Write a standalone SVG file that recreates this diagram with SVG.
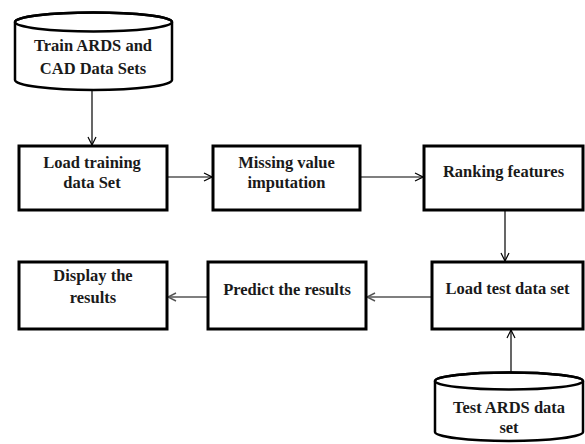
<svg xmlns="http://www.w3.org/2000/svg" width="585" height="444" viewBox="0 0 585 444">
<style>
.box{fill:#fff;stroke:#000;stroke-width:3}
.cyl{fill:#fff;stroke:#000;stroke-width:2.5}
.t{font-family:"Liberation Serif","Times New Roman",serif;font-weight:bold;font-size:16.5px;fill:#1a1a1a;text-anchor:middle}
.c{stroke:#000;stroke-width:1.2;fill:none}
.g{stroke:#555;stroke-width:1.6;fill:none}
</style>
<defs>
<marker id="a" viewBox="0 0 10 10" refX="9" refY="5" markerWidth="10" markerHeight="10" markerUnits="userSpaceOnUse" orient="auto">
<path d="M1,1 L9,5 L1,9" fill="none" stroke="#000" stroke-width="1.2"/>
</marker>
<marker id="ag" viewBox="0 0 10 10" refX="9" refY="5" markerWidth="10" markerHeight="10" markerUnits="userSpaceOnUse" orient="auto">
<path d="M1,1 L9,5 L1,9" fill="none" stroke="#555" stroke-width="1.4"/>
</marker>
</defs>
<rect width="585" height="444" fill="#fff"/>
<g id="connectors">
<line class="c" x1="92" y1="90" x2="92" y2="145" marker-end="url(#a)"/>
<line class="c" x1="167" y1="177" x2="212" y2="177" marker-end="url(#a)"/>
<line class="c" x1="360" y1="177" x2="423" y2="177" marker-end="url(#a)"/>
<line class="c" x1="505" y1="210" x2="505" y2="261" marker-end="url(#a)"/>
<line class="g" x1="432" y1="297" x2="367" y2="297" marker-end="url(#ag)"/>
<line class="g" x1="208" y1="297" x2="168" y2="297" marker-end="url(#ag)"/>
<line class="c" x1="511" y1="373" x2="511" y2="330" marker-end="url(#a)"/>
</g>
<g id="train">
<path class="cyl" d="M15,22 L15,80 A78.5,10 0 0 0 172,80 L172,22 A78.5,9.5 0 0 0 15,22 Z"/>
<ellipse cx="93.5" cy="22" rx="78.5" ry="9.5" fill="none" stroke="#000" stroke-width="2.5"/>
<text class="t" x="93" y="51">Train ARDS and</text>
<text class="t" x="93" y="74">CAD Data Sets</text>
</g>
<g id="load-training">
<rect class="box" x="19" y="146" width="148" height="64"/>
<text class="t" x="92" y="168">Load training</text>
<text class="t" x="92" y="188">data Set</text>
</g>
<g id="missing">
<rect class="box" x="213" y="146" width="147" height="64"/>
<text class="t" x="286.5" y="168">Missing value</text>
<text class="t" x="286.5" y="188">imputation</text>
</g>
<g id="ranking">
<rect class="box" x="424" y="146" width="159" height="64"/>
<text class="t" x="503.5" y="177">Ranking features</text>
</g>
<g id="load-test">
<rect class="box" x="432" y="262" width="151" height="67"/>
<text class="t" x="507.5" y="294">Load test data set</text>
</g>
<g id="predict">
<rect class="box" x="208" y="262" width="158" height="67"/>
<text class="t" x="287" y="295">Predict the results</text>
</g>
<g id="display">
<rect class="box" x="19" y="262" width="148" height="67"/>
<text class="t" x="93" y="281">Display the</text>
<text class="t" x="93" y="303">results</text>
</g>
<g id="test">
<path class="cyl" d="M435,381 L435,432 A74,9 0 0 0 583,432 L583,381 A74,8.5 0 0 0 435,381 Z"/>
<ellipse cx="509" cy="381" rx="74" ry="8.5" fill="none" stroke="#000" stroke-width="2.5"/>
<text class="t" x="509" y="413">Test ARDS data</text>
<text class="t" x="509" y="433">set</text>
</g>
</svg>
